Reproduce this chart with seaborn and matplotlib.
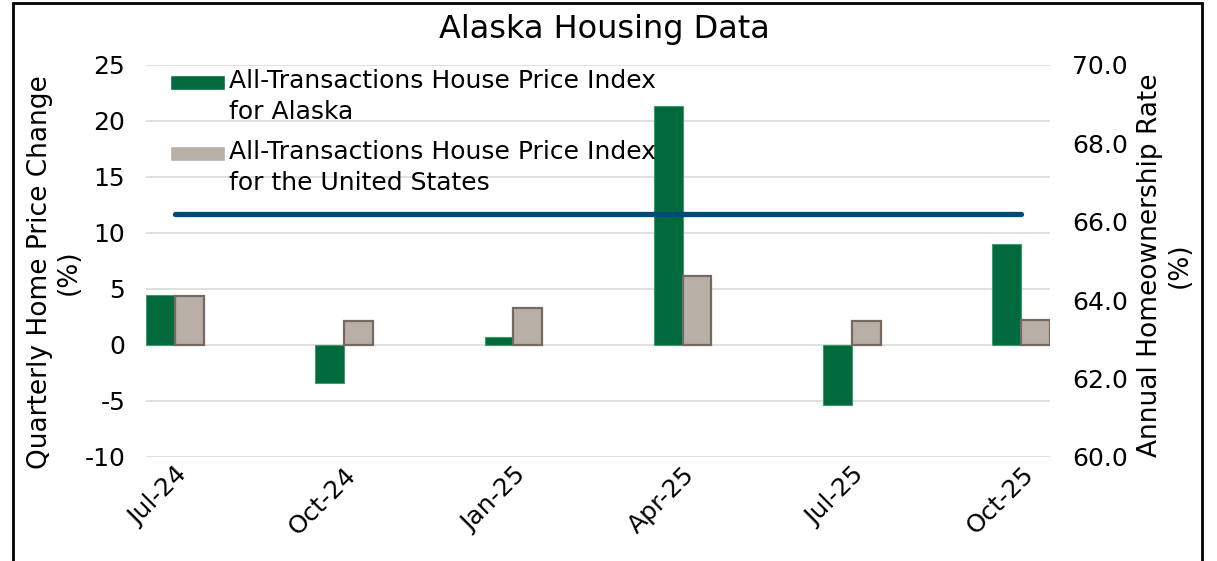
import numpy as np
import pandas as pd
import matplotlib
matplotlib.use("Agg")
import matplotlib.pyplot as plt
import seaborn as sns
from matplotlib.patches import Rectangle
from matplotlib.legend_handler import HandlerPatch

# data
quarters = ["Jul-24", "Oct-24", "Jan-25", "Apr-25", "Jul-25", "Oct-25"]
alaska_change = [4.5, -3.4, 0.7, 21.3, -5.4, 9.0]
us_change = [4.4, 2.1, 3.3, 6.2, 2.1, 2.2]
ak_homeownership = [66.2, 66.2, 66.2, 66.2, 66.2, 66.2]

ak_label = "All-Transactions House Price Index\nfor Alaska"
us_label = "All-Transactions House Price Index\nfor the United States"

df = pd.DataFrame({
    "quarter": quarters * 2,
    "change": alaska_change + us_change,
    "series": [ak_label] * len(quarters) + [us_label] * len(quarters),
})

sns.set_style("white")
plt.rcParams["font.family"] = ["DejaVu Sans"]
plt.rcParams["axes.unicode_minus"] = False
plt.rcParams["text.color"] = "black"
plt.rcParams["axes.labelcolor"] = "black"
plt.rcParams["xtick.color"] = "black"
plt.rcParams["ytick.color"] = "black"

GREEN = "#006A3C"
GRAY = "#B8AFA7"
GRAY_EDGE = "#76695F"
BLUE = "#004B76"


def top_patch(legend, orig_handle, xdescent, ydescent, width, height, fontsize):
    # put the legend swatch next to the first line of the label, like Excel does
    return Rectangle((-xdescent, -ydescent + 0.6 * fontsize), width, height)


fig = plt.figure(figsize=(12.17, 5.61), dpi=100)
ax = fig.add_axes([146 / 1217, 1 - 457 / 561, (1050 - 146) / 1217, (457 - 65) / 561])

sns.barplot(data=df, x="quarter", y="change", hue="series", order=quarters,
            palette=[GREEN, GRAY], width=0.34, saturation=1, ax=ax)
for bar in ax.containers[0]:
    bar.set_edgecolor("#3E9A6C")
    bar.set_linewidth(0.8)
for bar in ax.containers[1]:
    bar.set_edgecolor(GRAY_EDGE)
    bar.set_linewidth(1.6)

ax.set_ylim(-10, 25)
ax.set_yticks(np.arange(-10, 26, 5))
ax.set_xlim(-0.17, len(quarters) - 1 + 0.17)
ax.yaxis.grid(True, color="#DDDDDD", linewidth=1.3)
ax.set_axisbelow(True)
for s in ax.spines.values():
    s.set_visible(False)
ax.tick_params(axis="y", length=0, pad=15, labelsize=18)
ax.tick_params(axis="x", length=0, pad=4, labelsize=18)
plt.setp(ax.get_xticklabels(), rotation=45, ha="right", rotation_mode="anchor")
ax.set_xlabel("")
ax.set_ylabel("Quarterly Home Price Change\n(%)", fontsize=19, linespacing=1.15)
ax.yaxis.set_label_coords(-0.071, 0.472)

handles, labels = ax.get_legend_handles_labels()
leg = ax.legend(handles, labels, loc="upper left", bbox_to_anchor=(0.016, 1.015),
                frameon=False, fontsize=18, handlelength=2.2, handleheight=0.55,
                handletextpad=0.15, labelspacing=0.66, borderaxespad=0,
                handler_map={h: HandlerPatch(patch_func=top_patch) for h in handles})
for t in leg.get_texts():
    t.set_linespacing(1.35)

ax2 = ax.twinx()
ax2.plot(range(len(quarters)), ak_homeownership, color=BLUE, linewidth=3.8,
         solid_capstyle="round")
ax2.set_ylim(60, 70)
ax2.set_yticks(np.arange(60, 70.1, 2))
ax2.set_yticklabels([f"{v:.1f}" for v in np.arange(60, 70.1, 2)])
for s in ax2.spines.values():
    s.set_visible(False)
ax2.tick_params(axis="y", length=0, pad=16, labelsize=18)
ax2.set_ylabel("Annual Homeownership Rate\n(%)", fontsize=19, linespacing=1.2,
               rotation=90)
ax2.yaxis.set_label_coords(1.096, 0.49)

fig.text(0.497, 0.948, "Alaska Housing Data", ha="center", va="center", fontsize=23)

fig.patches.append(Rectangle((13 / 1217, -0.02), (1202 - 13) / 1217, 1.02 - 3 / 561,
                             transform=fig.transFigure, fill=False,
                             edgecolor="black", linewidth=2))

fig.savefig("out.png", dpi=100)
